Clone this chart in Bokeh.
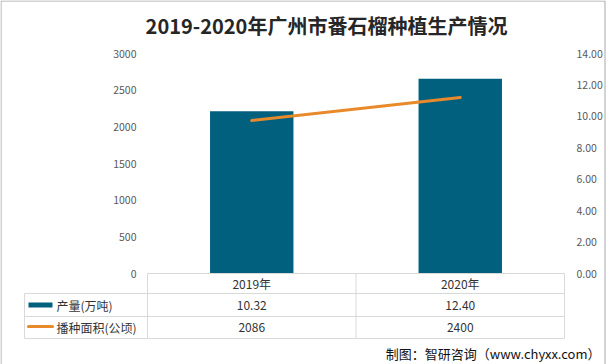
from bokeh.plotting import figure
from bokeh.models import Range1d, LinearAxis, FixedTicker, NumeralTickFormatter
from bokeh.core.properties import value
from bokeh.embed import file_html
from bokeh.resources import INLINE

# ---------------- data ----------------
title = "2019-2020年广州市番石榴种植生产情况"
years = ["2019年", "2020年"]
production = [10.32, 12.40]        # 产量(万吨)  -> right axis (bars)
area = [2086, 2400]                # 播种面积(公顷) -> left axis (line)
series_names = ["产量(万吨)", "播种面积(公顷)"]
left_ticks = [0, 500, 1000, 1500, 2000, 2500, 3000]
right_ticks = [0, 2, 4, 6, 8, 10, 12, 14]
source_note = "制图：智研咨询（www.chyxx.com）"

# ---------------- layout helpers (reference pixel -> data) ----------------
PX0, PX1 = 147, 564      # plot area left / right
PY0, PY1 = 273, 53       # pixel y of 0 and of left max
LMAX, RMAX = 3000, 14
n = len(years)
xs = [i + 0.5 for i in range(n)]
kx = (PX1 - PX0) / n
ky = (PY0 - PY1) / LMAX


def dx(px):
    return (px - PX0) / kx


def dy(py):
    return (PY0 - py) / ky


W, H = 606, 364
OFF = 0
FONT = value("Noto Sans CJK SC")
BAR = "#02607F"
ORANGE = "#E8892A"
GRID = "#D9D9D9"

p = figure(width=W, height=H,
           x_range=Range1d(dx(OFF), dx(OFF + W)),
           y_range=Range1d(dy(OFF + H), dy(OFF)),
           x_axis_type=None, y_axis_type=None,
           output_backend="svg", toolbar_location=None, min_border=0)
p.outline_line_color = None
p.background_fill_color = "white"
p.border_fill_color = "white"
p.extra_y_ranges = {"right": Range1d(dy(OFF + H) * RMAX / LMAX, dy(OFF) * RMAX / LMAX)}

axis_style = dict(axis_line_color=None, major_tick_in=0, major_tick_out=0,
                  minor_tick_in=0, minor_tick_out=0,
                  major_label_text_font="Noto Sans CJK SC",
                  major_label_text_font_size="10.5px",
                  major_label_text_color="#595959")
la = LinearAxis(ticker=FixedTicker(ticks=left_ticks), fixed_location=0,
                major_label_standoff=11, **axis_style)
p.add_layout(la, "left")
ra = LinearAxis(y_range_name="right", ticker=FixedTicker(ticks=right_ticks),
                formatter=NumeralTickFormatter(format="0.00"),
                fixed_location=dx(PX1), major_label_standoff=12, **axis_style)
p.add_layout(ra, "right")

# ---------------- data marks ----------------
p.vbar(x=xs, top=production, bottom=0, width=0.4, y_range_name="right",
       fill_color=BAR, line_color=None)
p.line(x=xs, y=area, line_width=3, line_color=ORANGE, line_cap="round")

# ---------------- data table ----------------
mid = PX0 + kx
hx0 = [PX0, 24, 24, 24]
hy = [273, 293, 316, 338]
p.segment(x0=[dx(v) for v in hx0], x1=[dx(PX1)] * 4,
          y0=[dy(v) for v in hy], y1=[dy(v) for v in hy],
          line_color=GRID, line_width=1)
vx = [24, PX0, mid, PX1]
vy0 = [293, 273, 273, 273]
p.segment(x0=[dx(v) for v in vx], x1=[dx(v) for v in vx],
          y0=[dy(v) for v in vy0], y1=[dy(338)] * 4,
          line_color=GRID, line_width=1)

cell = dict(text_font=FONT, text_font_size="12px", text_color="#333333",
            text_align="center", text_baseline="middle")
p.text(x=xs, y=[dy(283)] * n, text=years, **cell)
p.text(x=xs, y=[dy(304.5)] * n, text=[f"{v:.2f}" for v in production], **cell)
p.text(x=xs, y=[dy(327)] * n, text=[str(v) for v in area], **cell)

# legend swatches + names
p.quad(left=[dx(28)], right=[dx(52)], bottom=[dy(307)], top=[dy(302)],
       fill_color=BAR, line_color=None)
p.line(x=[dx(28), dx(52)], y=[dy(326)] * 2, line_width=3, line_color=ORANGE,
       line_cap="round")
p.text(x=[dx(56)] * 2, y=[dy(304.5), dy(327)], text=series_names,
       text_font=FONT, text_font_size="12px", text_color="#333333",
       text_align="left", text_baseline="middle")

# title and source
p.text(x=[dx(326)], y=[dy(25)], text=[title], text_font=FONT,
       text_font_size="20px", text_font_style="bold", text_color="#262626",
       text_align="center", text_baseline="middle")
p.text(x=[dx(600)], y=[dy(353)], text=[source_note], text_font=FONT,
       text_font_size="13px", text_color="#111111",
       text_align="right", text_baseline="middle")

# thin grey frame around the whole image (left, top, right)
bx = [0.5, 0.5, 604.5]
by0 = [0.5, 0.5, 0.5]
bx1 = [0.5, 604.5, 604.5]
by1 = [363.5, 0.5, 363.5]
p.segment(x0=[dx(v) for v in bx], y0=[dy(v) for v in by0],
          x1=[dx(v) for v in bx1], y1=[dy(v) for v in by1],
          line_color="#A6A6A6", line_width=1)

open("out.html", "w").write(file_html(p, INLINE))
